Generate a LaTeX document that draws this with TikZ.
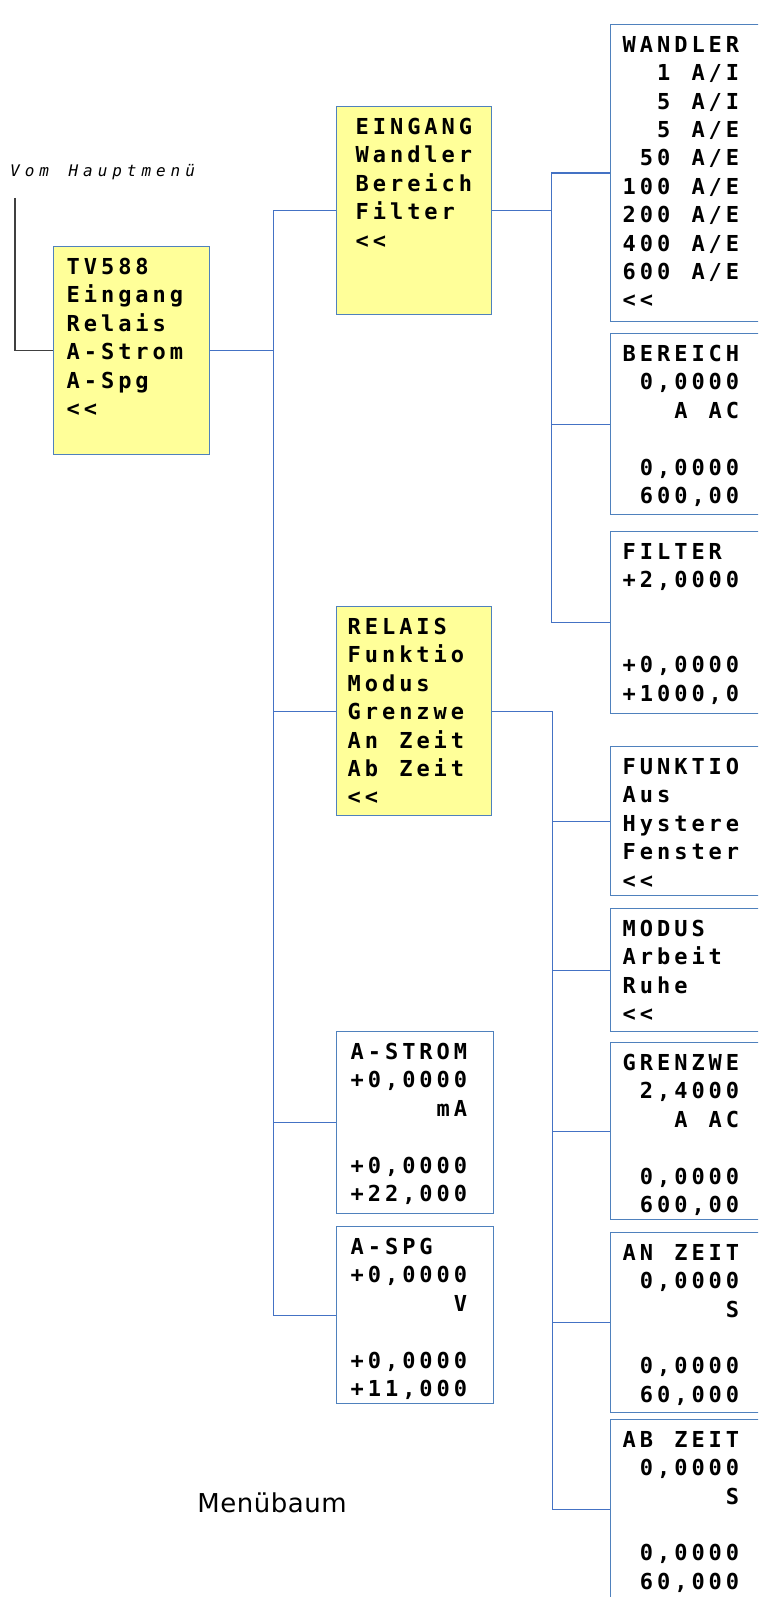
\documentclass[tikz,border=0pt]{standalone}
\usepackage{fontspec}
\usepackage{tikz}
\usetikzlibrary{positioning}
\setmainfont{DejaVu Sans}
\newfontfamily\menufont{DejaVu Sans Mono}[LetterSpace=18,Ligatures=TeXOff]
\newfontfamily\notefont{DejaVu Sans Mono}[LetterSpace=31,Ligatures=TeXOff]
\newfontfamily\titlefont{DejaVu Sans}[LetterSpace=2]
\definecolor{boxblue}{RGB}{79,129,189}
\definecolor{linkblue}{RGB}{68,114,196}
\definecolor{feedgray}{RGB}{64,64,64}
\definecolor{menuyellow}{RGB}{255,255,153}
% one column of the display = width of one letter plus spacing
\newlength\menupitch
\newcommand\setpitch{\setbox0\hbox{00}\setbox2\hbox{0}%
  \menupitch=\dimexpr\wd0-\wd2\relax
  \spaceskip=\dimexpr2\menupitch-\wd2\relax}
\newcommand\setmenu{\menufont\bfseries\fontsize{22pt}{28.4pt}\selectfont\setpitch}
\newcommand\setnote{\notefont\itshape\fontsize{16pt}{19pt}\selectfont\setpitch}
\newcommand\padcols[1]{\hspace*{#1\menupitch}}
\tikzset{
  menubox/.style={draw=boxblue, line width=1.2pt, fill=menuyellow,
    anchor=north west, inner sep=0pt},
  subbox/.style ={menubox, fill=white, minimum width=200pt},
  menutext/.style={font=\setmenu, align=left, inner sep=0pt},
  link/.style   ={draw=linkblue, line width=1.2pt},
  feed/.style   ={draw=feedgray, line width=1.2pt}
}

\begin{document}
\begin{tikzpicture}[x=1pt, y=-1pt]
  \useasboundingbox (0,0) rectangle (758,1597);
  \clip (0,0) rectangle (758,1597);

  % ---------- main menu ----------
  \node[menubox, minimum width=156pt, minimum height=208pt] (tv) at (53,246) {};
  \node[menutext, below right=12pt and 13.5pt of tv.north west] (tvtext)
    {TV588\\Eingang\\Relais\\A-Strom\\A-Spg\\<<};
  \node[font=\setnote, anchor=base west, inner sep=0pt] (vom) at (10,177)
    {Vom Hauptmenü};
  \coordinate (start) at (15,198);
  \draw[feed] (start) |- (tv.west);

  % ---------- second level ----------
  \node[menubox, minimum width=155pt, minimum height=208pt] (eingang) at (336,106) {};
  \node[menutext, below right=12pt and 19.5pt of eingang.north west]
    {EINGANG\\Wandler\\Bereich\\Filter\\<<};
  \node[menubox, minimum width=155pt, minimum height=209pt] (relais) at (336,606) {};
  \node[menutext, below right=12pt and 11.5pt of relais.north west]
    {RELAIS\\Funktio\\Modus\\Grenzwe\\An Zeit\\Ab Zeit\\<<};
  \node[menubox, fill=white, minimum width=157pt, minimum height=182pt] (astrom) at (336,1031) {};
  \node[menutext, below right=12pt and 14.5pt of astrom.north west]
    {A-STROM\\+0,0000\\\padcols{5}mA\\ \\+0,0000\\+22,000};
  \node[menubox, fill=white, minimum width=157pt, minimum height=177pt] (aspg) at (336,1226) {};
  \node[menutext, below right=12pt and 14.5pt of aspg.north west]
    {A-SPG\\+0,0000\\\padcols{6}V\\ \\+0,0000\\+11,000};

  % ---------- third level: Eingang ----------
  \node[subbox, minimum height=297pt] (wandler) at (610,24) {};
  \node[menutext, below right=12pt and 12.5pt of wandler.north west]
    {WANDLER\\\padcols{2}1 A/I\\\padcols{2}5 A/I\\\padcols{2}5 A/E\\\padcols{1}50 A/E\\
     100 A/E\\200 A/E\\400 A/E\\600 A/E\\<<};
  \node[subbox, minimum height=181pt] (bereich) at (610,333) {};
  \node[menutext, below right=12pt and 12.5pt of bereich.north west]
    {BEREICH\\\padcols{1}0,0000\\\padcols{3}A AC\\ \\\padcols{1}0,0000\\\padcols{1}600,00};
  \node[subbox, minimum height=182pt] (filter) at (610,531) {};
  \node[menutext, below right=12pt and 12.5pt of filter.north west]
    {FILTER\\+2,0000\\ \\ \\+0,0000\\+1000,0};

  % ---------- third level: Relais ----------
  \node[subbox, minimum height=149pt] (funktio) at (610,746) {};
  \node[menutext, below right=12pt and 12.5pt of funktio.north west]
    {FUNKTIO\\Aus\\Hystere\\Fenster\\<<};
  \node[subbox, minimum height=123pt] (modus) at (610,908) {};
  \node[menutext, below right=12pt and 12.5pt of modus.north west]
    {MODUS\\Arbeit\\Ruhe\\<<};
  \node[subbox, minimum height=177pt] (grenzwe) at (610,1042) {};
  \node[menutext, below right=12pt and 12.5pt of grenzwe.north west]
    {GRENZWE\\\padcols{1}2,4000\\\padcols{3}A AC\\ \\\padcols{1}0,0000\\\padcols{1}600,00};
  \node[subbox, minimum height=180pt] (anzeit) at (610,1232) {};
  \node[menutext, below right=12pt and 12.5pt of anzeit.north west]
    {AN ZEIT\\\padcols{1}0,0000\\\padcols{6}S\\ \\\padcols{1}0,0000\\\padcols{1}60,000};
  \node[subbox, minimum height=180pt] (abzeit) at (610,1419) {};
  \node[menutext, below right=12pt and 12.5pt of abzeit.north west]
    {AB ZEIT\\\padcols{1}0,0000\\\padcols{6}S\\ \\\padcols{1}0,0000\\\padcols{1}60,000};

  % ---------- connectors ----------
  \coordinate[right=63pt of tv.east] (tvbus);
  \coordinate[right=59pt of eingang.east] (ebus);
  \coordinate[right=60pt of relais.east] (rbus);
  \draw[link] (tv.east) -- (tvbus);
  \foreach \n in {eingang,relais,astrom,aspg}
    \draw[link] (tvbus) |- (\n.west);
  \draw[link] (eingang.east) -- (ebus);
  \foreach \n in {wandler,bereich,filter}
    \draw[link] (ebus) |- (\n.west);
  \draw[link] (relais.east) -- (rbus);
  \foreach \n in {funktio,modus,grenzwe,anzeit,abzeit}
    \draw[link] (rbus) |- (\n.west);

  \node[font=\titlefont\fontsize{26pt}{30pt}\selectfont] (title) at (272,1503)
    {Menübaum};
\end{tikzpicture}
\end{document}
